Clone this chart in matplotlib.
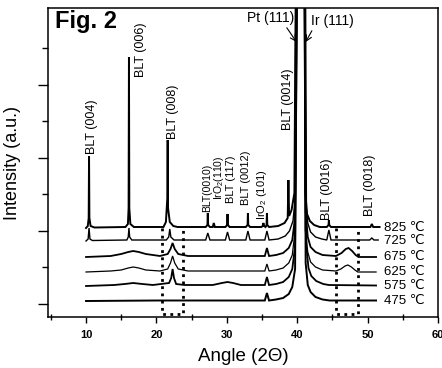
import matplotlib
matplotlib.use("Agg")
import matplotlib.pyplot as plt

plt.rcParams['font.family'] = ['Liberation Sans', 'DejaVu Sans']
plt.rcParams['mathtext.default'] = 'regular'

# ---------------- data ----------------
temps = ["825 ℃", "725 ℃", "675 ℃", "625 ℃", "575 ℃", "475 ℃"]
baselines = [89, 76, 60, 45, 31, 16]

x825 = [10.0, 10.25, 10.38, 10.43, 10.48, 10.65, 11.2, 15.6, 15.95, 16.05, 16.1, 16.15, 16.3, 16.8,
        21.0, 21.35, 21.55, 21.6, 21.65, 21.9, 22.4, 23.0, 27.0, 27.25, 27.3, 27.35, 27.6, 28.0, 28.15, 28.3,
        29.8, 30.05, 30.1, 30.15, 30.4, 32.7, 32.95, 33.0, 33.05, 33.3, 34.9, 35.1, 35.2, 35.3, 35.5,
        35.65, 35.7, 35.75, 36.0, 37.3, 38.2, 38.65, 38.75, 38.85, 39.2, 39.6, 39.95, 41.0, 41.15, 41.4,
        41.8, 42.4, 43.2, 44.2, 44.45, 44.5, 44.55, 44.8, 50.4, 50.6, 50.8, 51.7]
y825 = [0, 2, 10, 72, 10, 2, 0.5, 1, 4, 20, 171, 20, 4, 1,
        1, 6, 30, 88, 20, 6, 2, 1, 1, 3, 15, 3, 1, 1, 5, 1,
        1, 3, 14, 3, 1, 1, 3, 15, 3, 1, 1, 2, 5, 2, 1,
        3, 15, 3, 1, 2, 5, 10, 48, 12, 18, 35, 400, 400, 35, 14,
        7, 3, 1, 1, 3, 8, 3, 1, 1, 4, 1, 1]

x725 = [10.0, 10.3, 10.43, 10.56, 10.9, 15.8, 16.0, 16.1, 16.2, 16.5, 21.4, 21.75, 21.9, 22.05, 22.5,
        27.0, 27.3, 27.6, 29.8, 30.1, 30.4, 32.7, 33.0, 33.3, 35.4, 35.7, 36.0, 37.3, 38.3, 38.9, 39.4,
        39.75, 40.0, 41.05, 41.2, 41.5, 41.9, 42.6, 43.5, 44.2, 44.5, 44.8, 50.3, 50.6, 50.9, 51.5]
y725 = [0, 2, 13, 2, 0.5, 1, 4, 13, 4, 1, 1, 4, 12, 4, 1,
        1, 8, 1, 1, 9, 1, 1, 10, 1, 1, 10, 1, 2, 5, 10, 20,
        45, 400, 400, 40, 18, 9, 4, 2, 1, 11, 1, 1, 3, 1, 1]

x675 = [10.0, 13.5, 15.0, 16.0, 16.7, 17.5, 18.5, 20.5, 21.6, 22.0, 22.3, 22.6, 23.1, 24.5,
        35.4, 35.7, 36.0, 37.0, 38.0, 38.8, 39.3, 39.7, 40.05, 41.0, 41.2, 41.5, 41.9, 42.6, 43.6,
        45.5, 46.3, 46.9, 47.3, 47.8, 48.3, 48.7, 51.2]
y675 = [0, 1, 3, 5, 6, 5, 3, 1, 3, 8, 14, 8, 3, 1,
        1, 9, 1, 2, 4, 9, 17, 40, 400, 400, 45, 20, 10, 5, 2,
        1, 4, 8, 9, 6, 2, 0, 0]

x625 = [10.0, 13.5, 15.0, 16.0, 16.7, 17.5, 18.5, 20.5, 21.6, 22.0, 22.3, 22.6, 23.1, 24.5,
        35.4, 35.7, 36.0, 37.0, 38.0, 38.8, 39.3, 39.6, 39.9, 40.95, 41.15, 41.5, 41.9, 42.6, 43.6,
        45.5, 46.2, 46.8, 47.2, 47.7, 48.2, 48.6, 51.2]
y625 = [0, 1, 2, 4, 5, 4, 2, 1, 3, 9, 16, 9, 3, 1,
        1, 8, 1, 2, 4, 9, 17, 35, 400, 400, 42, 20, 10, 5, 2,
        1, 3, 6, 7, 5, 2, 0, 0]

x575 = [10.0, 14.0, 15.5, 16.7, 18.0, 19.5, 21.8, 22.1, 22.3, 22.5, 22.8, 24.0, 28.0, 29.3, 30.1,
        30.9, 32.0, 35.4, 35.7, 36.0, 37.0, 38.0, 38.8, 39.3, 39.7, 40.1, 41.1, 41.3, 41.6, 42.0,
        42.7, 43.7, 44.5, 51.2]
y575 = [0, 1, 2, 3, 2, 1, 3, 8, 17, 8, 2, 1, 1, 3, 4,
        3, 1, 1, 9, 1, 2, 4, 9, 17, 40, 400, 400, 40, 18, 10,
        5, 2, 1, 0.5]

x475 = [10.0, 20.0, 30.0, 35.4, 35.7, 36.0, 37.0, 38.0, 38.8, 39.3, 39.7, 40.0, 41.0, 41.2, 41.5,
        41.9, 42.6, 43.6, 44.6, 51.2]
y475 = [0, 0.5, 0.5, 0.5, 8, 0.5, 1.5, 3, 7, 14, 32, 400, 400, 38, 16,
        9, 4, 1.5, 0.5, 0.5]

traces_x = [x825, x725, x675, x625, x575, x475]
traces_y = [y825, y725, y675, y625, y575, y475]
line_w = [1.4, 1.0, 1.3, 0.9, 1.3, 1.4]

# peak labels: (text, x, y-bottom, fontsize)
peak_labels = [
    ("BLT (004)", 10.85, 163, 9),
    ("BLT (006)", 17.8, 240, 9),
    ("BLT (008)", 22.3, 178, 9),
    ("BLT(0010)", 27.25, 105, 7.5),
    ("IrO$_2$(110)", 28.9, 117, 7.5),
    ("BLT (117)", 30.6, 114, 8),
    ("BLT (0012)", 32.75, 112, 8),
    ("IrO$_2$ (101)", 35.05, 97, 8),
    ("BLT (0014)", 38.7, 187, 9),
    ("BLT (0016)", 44.2, 97, 9),
    ("BLT (0018)", 50.4, 101, 9),
]

box1 = [20.8, 23.8]
box2 = [45.5, 48.7]
box_top, box_bottom = 89, 3

xticks_major = [10, 20, 30, 40, 50, 60]
xticks_minor = [5, 15, 25, 35, 45, 55]
yticks_major = [13, 86, 159, 232]
yticks_minor = [50, 123, 196, 269]

# ---------------- plot ----------------
fig = plt.figure(figsize=(4.42, 3.68), dpi=100)
ax = fig.add_axes([48 / 442, 1 - 317 / 368, (438 - 48) / 442, (317 - 8) / 368])

for xs, ys, b, lw in zip(traces_x, traces_y, baselines, line_w):
    ax.plot(xs, [v + b for v in ys], color='black', lw=lw, solid_joinstyle='miter')

for t, b in zip(temps, baselines):
    ax.text(52.4, b, t, fontsize=9.5, va='center', ha='left')

for t, x, y, fs in peak_labels:
    ax.text(x, y, t, rotation=90, fontsize=fs, ha='center', va='bottom')

# dotted boxes
for bx in (box1, box2):
    ax.plot([bx[0], bx[0], bx[1], bx[1]], [box_top, box_bottom, box_bottom, box_top],
            color='black', lw=2.0, ls=(0, (1, 1.6)))

# Pt / Ir annotations
ax.annotate("Pt (111)", xy=(39.9, 275), xytext=(39.6, 299), fontsize=10,
            ha='right', va='center',
            arrowprops=dict(arrowstyle='->', color='black', lw=0.8,
                            shrinkA=0, shrinkB=0, relpos=(0.8, 0)))
ax.annotate("Ir (111)", xy=(41.2, 275), xytext=(42.0, 296), fontsize=10,
            ha='left', va='center',
            arrowprops=dict(arrowstyle='->', color='black', lw=0.8,
                            shrinkA=0, shrinkB=0, relpos=(0.05, 0)))

ax.text(0.018, 0.995, "Fig. 2", transform=ax.transAxes, fontsize=17, fontweight='bold',
        ha='left', va='top')

ax.set_xlim(4.6, 60)
ax.set_ylim(0, 309)
ax.set_xticks(xticks_major)
ax.set_xticks(xticks_minor, minor=True)
ax.set_yticks(yticks_major)
ax.set_yticks(yticks_minor, minor=True)
ax.set_yticklabels([])
ax.tick_params(axis='x', which='major', direction='out', length=4, width=1, labelsize=8, pad=5)
ax.tick_params(axis='x', which='minor', direction='inout', length=4, width=1)
ax.tick_params(axis='y', which='major', direction='out', length=7, width=1)
ax.tick_params(axis='y', which='minor', direction='out', length=4, width=1)
for lab in ax.get_xticklabels():
    lab.set_fontweight('bold')
for s in ax.spines.values():
    s.set_linewidth(1.1)

ax.set_xlabel("Angle (2Θ)", fontsize=13.5, labelpad=6)
ax.set_ylabel("Intensity (a.u.)", fontsize=13)
ax.yaxis.set_label_coords(-0.068, 0.5)

fig.savefig("out.png", dpi=100)
